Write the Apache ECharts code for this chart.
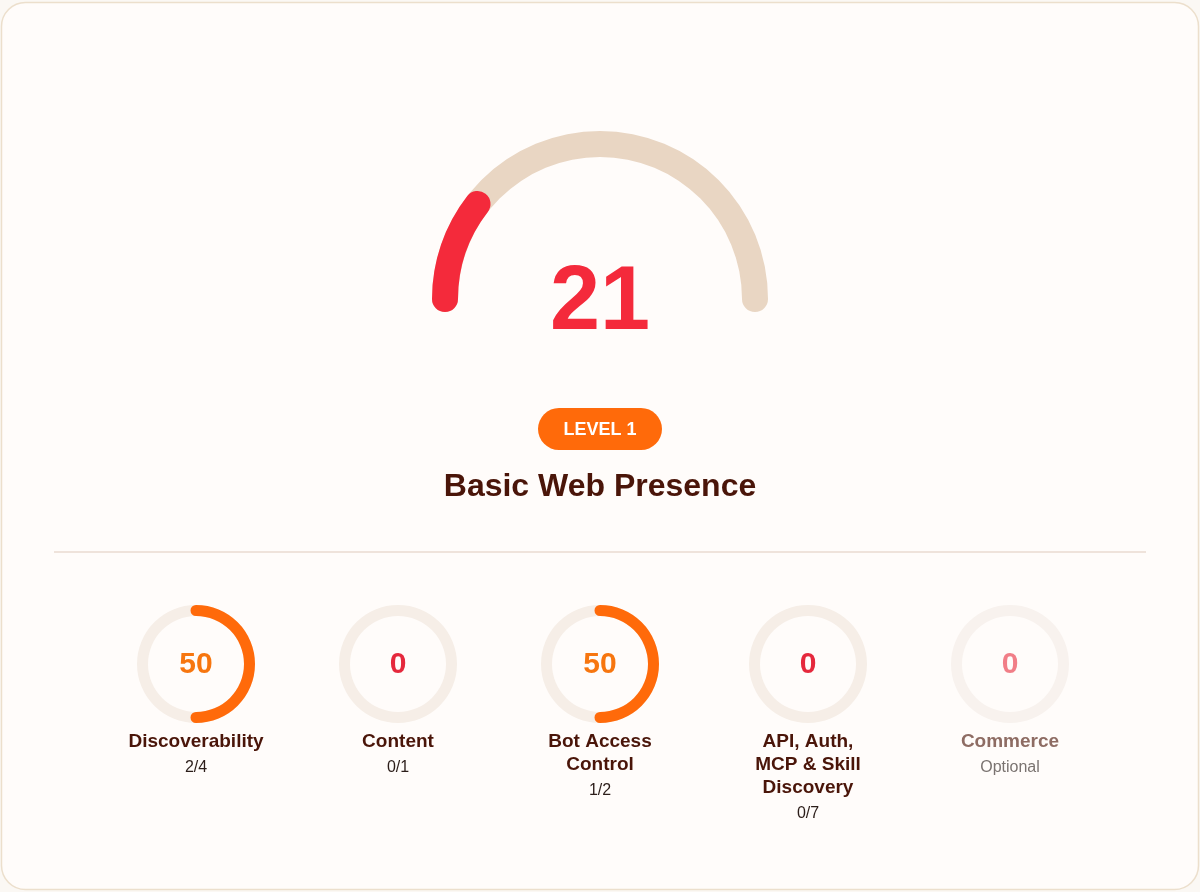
<!DOCTYPE html>
<html>
<head>
<meta charset="utf-8">
<script src="https://cdn.jsdelivr.net/npm/echarts@6/dist/echarts.min.js"></script>
<style>
html,body{margin:0;padding:0;background:#fbf8f4;}
#chart{width:1200px;height:892px;}
</style>
</head>
<body>
<div id="chart"></div>
<script>
// ---- data ----
const overallScore = 21;
const overallMax = 100;
const levelLabel = 'LEVEL 1';
const levelName = 'Basic Web Presence';
const categories = ['Discoverability', 'Content', 'Bot Access\nControl', 'API, Auth,\nMCP & Skill\nDiscovery', 'Commerce'];
const categoryScores = [50, 0, 50, 0, 0];
const categoryDetails = ['2/4', '0/1', '1/2', '0/7', 'Optional'];
const categoryOptional = [false, false, false, false, true];

// ---- style ----
const FONT = '"Liberation Sans", Arial, sans-serif';
const RED = '#f42a3b';
const ORANGE = '#ff6a0a';
const TAN = '#e9d6c3';
const RING = '#f6eee7';
const BROWN = '#4a1509';

const chart = echarts.init(document.getElementById('chart'));

const series = [];
// main gauge
series.push({
  type: 'gauge',
  center: [600, 299],
  radius: 168,
  startAngle: 180,
  endAngle: 0,
  min: 0,
  max: overallMax,
  pointer: { show: false },
  anchor: { show: false },
  axisTick: { show: false },
  splitLine: { show: false },
  axisLabel: { show: false },
  title: { show: false },
  axisLine: { roundCap: true, lineStyle: { width: 26, color: [[1, TAN]] } },
  progress: { show: true, roundCap: true, width: 26, itemStyle: { color: RED } },
  detail: {
    offsetCenter: [0, 5],
    fontSize: 90,
    fontWeight: 'bold',
    fontFamily: FONT,
    color: RED,
    formatter: '{value}'
  },
  data: [{ value: overallScore }]
});

const centersX = [196, 398, 600, 808, 1010];
const centerY = 664;
const graphics = [];

categories.forEach((name, i) => {
  const v = categoryScores[i];
  const opt = categoryOptional[i];
  const col = v >= 50 ? ORANGE : RED;
  series.push({
    type: 'gauge',
    center: [centersX[i], centerY],
    radius: 59,
    startAngle: 90,
    endAngle: -270,
    clockwise: true,
    min: 0,
    max: 100,
    pointer: { show: false },
    anchor: { show: false },
    axisTick: { show: false },
    splitLine: { show: false },
    axisLabel: { show: false },
    title: { show: false },
    axisLine: { lineStyle: { width: 11, color: [[1, opt ? '#f8f2ee' : RING]] } },
    progress: { show: v > 0, roundCap: true, width: 11, itemStyle: { color: col } },
    detail: {
      offsetCenter: [0, 1],
      fontSize: 30,
      fontWeight: 'bold',
      fontFamily: FONT,
      color: opt ? 'rgba(232,41,59,0.6)' : (v >= 50 ? '#f7760f' : '#e5283c'),
      formatter: '{value}'
    },
    data: [{ value: v }]
  });
  const lines = name.split('\n').length;
  graphics.push({
    type: 'text',
    x: centersX[i],
    y: 741 - 11,
    style: {
      text: name,
      fill: opt ? '#8e6c63' : BROWN,
      font: 'bold 19px ' + FONT,
      textAlign: 'center',
      textVerticalAlign: 'top',
      lineHeight: 23
    }
  });
  graphics.push({
    type: 'text',
    x: centersX[i],
    y: 741 + (lines - 1) * 23 + 27,
    style: {
      text: categoryDetails[i],
      fill: opt ? '#7a7370' : '#2b1d19',
      font: '16px ' + FONT,
      textAlign: 'center',
      textVerticalAlign: 'middle'
    }
  });
});

// card, badge, title, separator
graphics.unshift(
  { type: 'rect', z: -10, shape: { x: 1.5, y: 2.5, width: 1197, height: 887, r: 24 },
    style: { fill: '#fffcfa', stroke: '#ecdfcc', lineWidth: 1.5 } },
  { type: 'rect', shape: { x: 538, y: 408, width: 124, height: 42, r: 21 },
    style: { fill: ORANGE } },
  { type: 'text', x: 600, y: 430,
    style: { text: levelLabel, fill: '#ffffff', font: 'bold 18px ' + FONT, textAlign: 'center', textVerticalAlign: 'middle' } },
  { type: 'text', x: 600, y: 487,
    style: { text: levelName, fill: BROWN, font: 'bold 32px ' + FONT, textAlign: 'center', textVerticalAlign: 'middle' } },
  { type: 'line', shape: { x1: 54, y1: 552, x2: 1146, y2: 552 },
    style: { stroke: '#eadbd0', lineWidth: 1.5 } }
);

chart.setOption({
  backgroundColor: 'transparent',
  animation: false,
  graphic: graphics,
  series: series
});
</script>
</body>
</html>
